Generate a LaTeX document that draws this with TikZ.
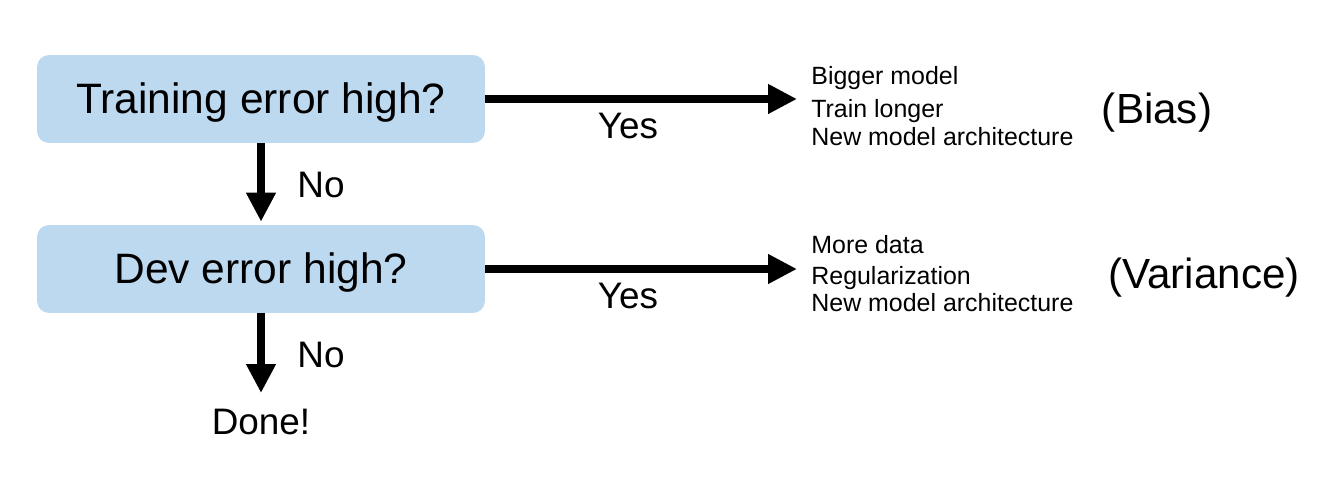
\documentclass[tikz,border=0pt]{standalone}
\usepackage{fontspec}
\setmainfont{Liberation Sans}
\usetikzlibrary{arrows.meta}
\definecolor{boxblue}{RGB}{189,217,240}
\tikzset{
  qbox/.style={fill=boxblue, draw=none, rounded corners=0.24cm, minimum width=8.96cm, minimum height=1.76cm, inner sep=0pt},
  bigtxt/.style={font=\fontsize{24.2}{28}\selectfont, anchor=base, inner sep=0pt},
  midtxt/.style={font=\fontsize{21}{25}\selectfont, anchor=base, inner sep=0pt},
  smalltxt/.style={font=\fontsize{14.2}{17}\selectfont, anchor=base west, inner sep=0pt},
  tagtxt/.style={font=\fontsize{24}{28}\selectfont, anchor=base, inner sep=0pt},
  flow/.style={line width=5.1pt, -{Triangle[length=0.58cm,width=0.56cm]}}
}
\begin{document}
\begin{tikzpicture}[x=0.02cm,y=-0.02cm]
\useasboundingbox (0,0) rectangle (1337,487);
\node[qbox] (b1) at (261,99) {};
\node[bigtxt] (t1) at (261,113) {Training error high?};
\node[qbox] (b2) at (261,269) {};
\node[bigtxt] (t2) at (261,283) {Dev error high?};
\coordinate (h1) at (797,99);
\coordinate (h2) at (797,269);
\node[midtxt] (done) at (261,434) {Done!};
\coordinate (d1) at (261,393);
\draw[flow] (b1.east) -- (h1);
\draw[flow] (b2.east) -- (h2);
\draw[flow] (b1.south) -- ([yshift=0.06cm]b2.north);
\draw[flow] (b2.south) -- (d1);
\node[midtxt] (y1) at (628,138) {Yes};
\node[midtxt] (y2) at (628,308) {Yes};
\node[midtxt] (n1) at (321,197) {No};
\node[midtxt] (n2) at (321,367) {No};
\node[smalltxt] (l11) at (811,84) {Bigger model};
\node[smalltxt] (l12) at (811,117) {Train longer};
\node[smalltxt] (l13) at (811,145) {New model architecture};
\node[smalltxt] (l21) at (811,253) {More data};
\node[smalltxt] (l22) at (811,284) {Regularization};
\node[smalltxt] (l23) at (811,311) {New model architecture};
\node[tagtxt] (bias) at (1157,123) {(Bias)};
\node[tagtxt] (var) at (1204,288) {(Variance)};
\end{tikzpicture}
\end{document}
